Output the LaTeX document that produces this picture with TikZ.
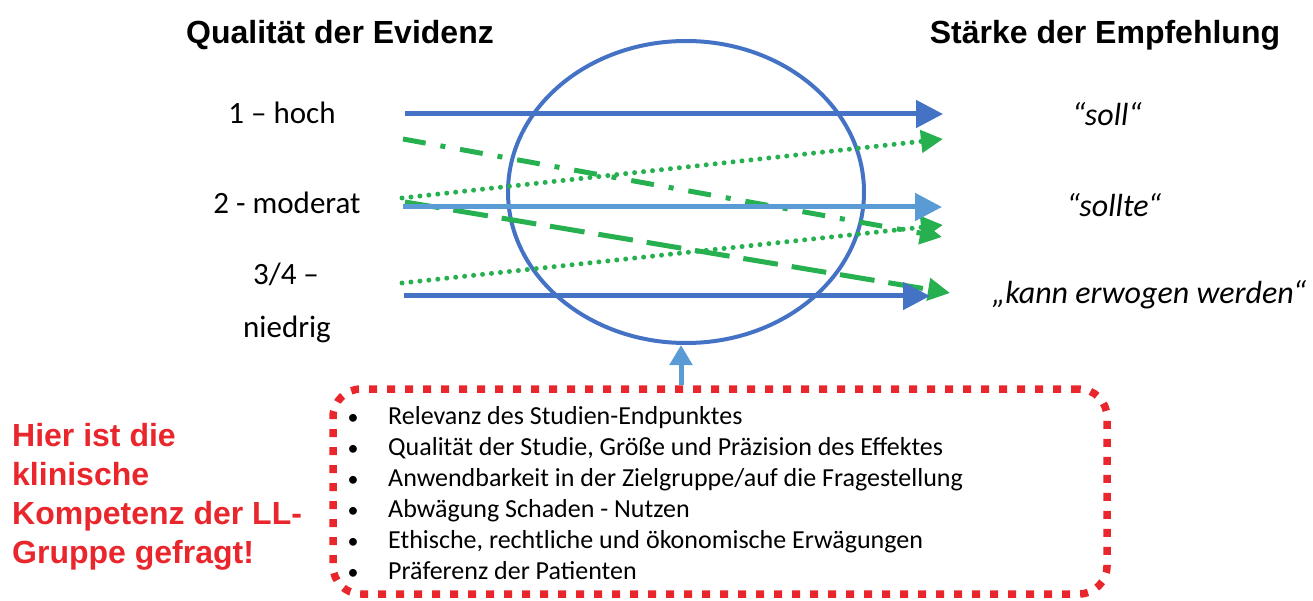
\documentclass[tikz,border=0pt]{standalone}
\usepackage{fontspec}
\setmainfont{Carlito}
\newfontfamily\arialfont{Liberation Sans}
\usetikzlibrary{arrows.meta,shapes.geometric}
\definecolor{dblue}{RGB}{68,114,196}
\definecolor{lblue}{RGB}{91,155,213}
\definecolor{mygreen}{RGB}{38,176,80}
\definecolor{myred}{RGB}{232,38,44}
\begin{document}
\begin{tikzpicture}[x=1pt,y=-1pt,
  title/.style={font=\arialfont\bfseries\fontsize{32}{38}\selectfont, inner sep=0pt, anchor=base},
  lvl/.style={font=\fontsize{31}{36}\selectfont, inner sep=0pt, anchor=base},
  rec/.style={font=\itshape\fontsize{32}{36}\selectfont, inner sep=0pt, anchor=base},
  redtxt/.style={font=\arialfont\bfseries\fontsize{32}{38}\selectfont, text=myred, inner sep=0pt, anchor=base west},
  itemtxt/.style={font=\fontsize{26}{31}\selectfont, inner sep=0pt, anchor=base west},
  bul/.style={font=\fontsize{22}{27}\selectfont, inner sep=0pt, anchor=base},
  bluearrow/.style={line width=5pt, -{Triangle[length=27pt,width=27pt]}},
  greenarrow/.style={draw=mygreen, line width=5pt, -{Triangle[length=22pt,width=22pt]}},
  gdots/.style={greenarrow, line width=5pt, line cap=round, dash pattern=on 0pt off 9pt},
  gdashdot/.style={greenarrow, dash pattern=on 23pt off 15pt on 5pt off 15pt},
  gdashed/.style={greenarrow, dash pattern=on 35pt off 14pt},
]
\useasboundingbox (0,0) rectangle (1313,601);

% titles
\node[title] (tl) at (340,44) {Qualität der Evidenz};
\node[title] (tr) at (1105,44) {Stärke der Empfehlung};

% ellipse
\node[ellipse, draw=dblue, line width=4pt, minimum width=356pt, minimum height=302pt, inner sep=0pt] (ell) at (686,192) {};

% left labels
\node[lvl] (q1) at (282,124) {1 – hoch};
\node[lvl] (q2) at (287,214) {2 - moderat};
\node[lvl] (q3) at (286,285) {3/4 –};
\node[lvl] (q4) at (287,337) {niedrig};

% right labels
\node[rec] (r1) at (1107,126) {“soll“};
\node[rec] (r2) at (1114,217) {“sollte“};
\node[rec] (r3) at (1149,303) {„kann erwogen werden“};

% arrow end points
\coordinate (a1s) at (405,114); \coordinate (a1e) at (943,114);
\coordinate (a2s) at (403,207); \coordinate (a2e) at (942,207);
\coordinate (a3s) at (404,296); \coordinate (a3e) at (930,296);
\coordinate (g1s) at (403,139); \coordinate (g1e) at (942,237);
\coordinate (g2s) at (402,198); \coordinate (g2e) at (943,139);
\coordinate (g3s) at (402,283); \coordinate (g3e) at (943,225);
\coordinate (g4s) at (405,202); \coordinate (g4e) at (950,293);

% green arrows
\draw[gdashdot] (g1s) -- (g1e);
\draw[gdots] (g2s) -- (g2e);
\draw[gdots] (g3s) -- (g3e);
\draw[gdashed] (g4s) -- (g4e);

% blue arrows
\draw[bluearrow, dblue] (a1s) -- (a1e);
\draw[bluearrow, lblue] (a2s) -- (a2e);
\draw[bluearrow, dblue] (a3s) -- (a3e);

% red box
\node[draw=myred, line width=7.5pt, dash pattern=on 8pt off 10pt, rounded corners=28pt, minimum width=774pt, minimum height=205pt, inner sep=0pt] (box) at (720,491.5) {};

% vertical arrow
\coordinate (vx) at (681,0);
\draw[lblue, line width=5pt, -{Triangle[length=20pt,width=22pt]}] (box.north -| vx) -- (ell.south -| vx);

% bullet items
\foreach \t [count=\i] in {Relevanz des Studien-Endpunktes,
  {Qualität der Studie, Größe und Präzision des Effektes},
  Anwendbarkeit in der Zielgruppe/auf die Fragestellung,
  Abwägung Schaden - Nutzen,
  {Ethische, rechtliche und ökonomische Erwägungen},
  Präferenz der Patienten}{
  \node[bul] (b\i) at (353,{424+31.1*(\i-1)}) {•};
  \node[itemtxt] (i\i) at (388,{424+31.1*(\i-1)}) {\t};
}

% red text
\node[redtxt] (h1) at (12,446) {Hier ist die};
\node[redtxt] (h2) at (12,485) {klinische};
\node[redtxt] (h3) at (12,524) {Kompetenz der LL-};
\node[redtxt] (h4) at (12,563) {Gruppe gefragt!};
\end{tikzpicture}
\end{document}
